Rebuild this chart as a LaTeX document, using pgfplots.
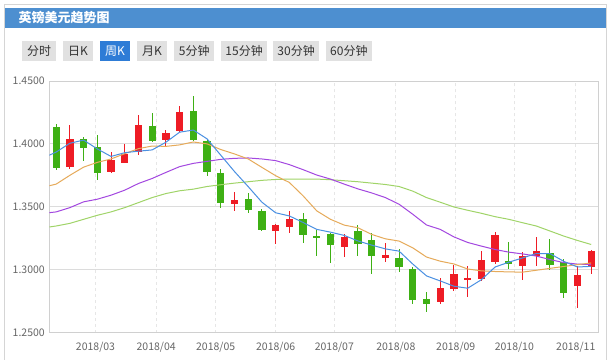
\documentclass[border=0pt]{standalone}
\usepackage{fontspec}
\setmainfont{Noto Sans CJK SC}
\usepackage{pgfplots}
\usepackage{pgfplotstable}
\pgfplotsset{compat=1.18}
\definecolor{hdr}{HTML}{4D8FD0}
\definecolor{bordercol}{HTML}{D5D5D5}
\definecolor{btn}{HTML}{E1E1E1}
\definecolor{btnact}{HTML}{2E7CD6}
\definecolor{btntxt}{HTML}{333333}
\definecolor{axcol}{HTML}{D0D0D0}
\definecolor{gridcol}{HTML}{DCDCDC}
\definecolor{vgridcol}{HTML}{E6E6E6}
\definecolor{labcol}{HTML}{666666}
\definecolor{upred}{HTML}{EE1C25}
\definecolor{dngreen}{HTML}{3EB014}
\definecolor{maA}{HTML}{4A90E2}
\definecolor{maB}{HTML}{E6AA5A}
\definecolor{maC}{HTML}{A347E0}
\definecolor{maD}{HTML}{A0D468}

% red (up) candles: index open high low close
\pgfplotstableread{
i o h l c
1 1.3819 1.4147 1.3800 1.4040
4 1.3778 1.3933 1.3768 1.3870
5 1.3848 1.4000 1.3845 1.3917
6 1.3939 1.4227 1.3912 1.4147
8 1.4027 1.4112 1.3973 1.4085
9 1.4099 1.4299 1.4093 1.4256
13 1.3525 1.3618 1.3464 1.3557
16 1.3306 1.3360 1.3206 1.3354
17 1.3336 1.3466 1.3293 1.3406
21 1.3181 1.3280 1.3098 1.3258
24 1.3093 1.3208 1.3058 1.3114
28 1.2742 1.2930 1.2726 1.2853
29 1.2848 1.3040 1.2834 1.2968
30 1.2914 1.3026 1.2786 1.2934
31 1.2928 1.3146 1.2906 1.3080
32 1.3058 1.3298 1.3045 1.3272
34 1.3026 1.3138 1.2920 1.3106
35 1.3106 1.3258 1.3026 1.3152
38 1.2866 1.3026 1.2696 1.2960
39 1.3018 1.3160 1.2968 1.3152
}\redtab

% green (down) candles
\pgfplotstableread{
i o h l c
0 1.4134 1.4155 1.3792 1.3806
2 1.4035 1.4054 1.3862 1.3970
3 1.3973 1.4072 1.3714 1.3766
7 1.4141 1.4248 1.4013 1.4019
10 1.4261 1.4381 1.4019 1.4032
11 1.4021 1.4040 1.3746 1.3778
12 1.3765 1.3800 1.3490 1.3533
14 1.3560 1.3608 1.3453 1.3472
15 1.3466 1.3486 1.3306 1.3314
18 1.3400 1.3448 1.3213 1.3274
19 1.3263 1.3312 1.3106 1.3258
20 1.3280 1.3288 1.3050 1.3194
22 1.3304 1.3358 1.3106 1.3206
23 1.3237 1.3288 1.2966 1.3106
25 1.3093 1.3166 1.2978 1.3018
26 1.3005 1.3022 1.2726 1.2760
27 1.2768 1.2824 1.2662 1.2726
33 1.3066 1.3218 1.3005 1.3048
36 1.3133 1.3240 1.3000 1.3034
37 1.3061 1.3085 1.2778 1.2818
}\greentab

% moving averages
\pgfplotstableread{
i ma5 ma10 ma20 ma30
-0.5 1.3910 1.3667 1.3453 1.3339
0 1.3935 1.3680 1.3459 1.3347
1 1.4005 1.3750 1.3493 1.3368
2 1.4030 1.3815 1.3539 1.3400
3 1.3960 1.3853 1.3560 1.3432
4 1.3900 1.3880 1.3592 1.3459
5 1.3930 1.3922 1.3632 1.3493
6 1.3942 1.3962 1.3685 1.3533
7 1.3952 1.3983 1.3725 1.3573
8 1.4013 1.3980 1.3773 1.3605
9 1.4093 1.3992 1.3819 1.3627
10 1.4110 1.4015 1.3845 1.3640
11 1.4040 1.4000 1.3861 1.3661
12 1.3910 1.3955 1.3877 1.3675
13 1.3780 1.3920 1.3885 1.3688
14 1.3660 1.3880 1.3888 1.3699
15 1.3536 1.3813 1.3880 1.3710
16 1.3452 1.3747 1.3867 1.3717
17 1.3427 1.3693 1.3835 1.3720
18 1.3375 1.3587 1.3795 1.3720
19 1.3320 1.3467 1.3752 1.3720
20 1.3298 1.3400 1.3720 1.3715
21 1.3272 1.3354 1.3680 1.3707
22 1.3228 1.3333 1.3642 1.3699
23 1.3195 1.3280 1.3610 1.3688
24 1.3165 1.3245 1.3573 1.3677
25 1.3147 1.3227 1.3520 1.3661
26 1.3044 1.3173 1.3440 1.3624
27 1.2950 1.3100 1.3355 1.3573
28 1.2910 1.3067 1.3320 1.3536
29 1.2868 1.3045 1.3260 1.3498
30 1.2852 1.3005 1.3216 1.3472
31 1.2920 1.2990 1.3187 1.3448
32 1.3021 1.2985 1.3160 1.3421
33 1.3059 1.2982 1.3139 1.3400
34 1.3093 1.2980 1.3125 1.3373
35 1.3128 1.2995 1.3108 1.3347
36 1.3128 1.3010 1.3080 1.3307
37 1.3066 1.3025 1.3056 1.3267
38 1.3021 1.3040 1.3044 1.3232
39 1.3026 1.3053 1.3040 1.3200
}\matab

\begin{document}
\begin{tikzpicture}[x=1pt,y=1pt]
\useasboundingbox (0,0) rectangle (609,359);
\fill[white] (0,0) rectangle (609,359);
% widget border
\draw[bordercol, line width=1pt] (4.5,-1) -- (4.5,354.5) -- (606.5,354.5) -- (606.5,-1);
% header
\fill[hdr] (5,331.3) rectangle (606,351.3);
\node[anchor=west, text=white, inner sep=0, font=\fontsize{13}{15}\selectfont\bfseries] at (18.3,341.8) {英镑美元趋势图};
% buttons
\tikzset{btnbox/.style={inner sep=0, font=\fontsize{12}{14}\selectfont, text=btntxt}}
\foreach \xa/\xb/\t in {22.3/55.7/分时, 63.3/92.7/日K, 137.3/166.7/月K, 174.3/214.3/5分钟, 221/267.3/15分钟, 273.3/319/30分钟, 326/371.7/60分钟}{
  \fill[btn] (\xa,298) rectangle (\xb,318);
  \node[btnbox] at ({(\xa+\xb)/2},308) {\t};
}
\fill[btnact] (100,298) rectangle (130,318);
\node[btnbox, text=white] at (115,308) {周K};

\begin{axis}[
  at={(49.3pt,26.5pt)}, anchor=south west,
  scale only axis, width=548.7pt, height=251.5pt,
  xmin=-0.5, xmax=39.5, ymin=1.25, ymax=1.45,
  axis line style={draw=axcol},
  tick style={draw=none},
  xtick={2.87,7.29,11.63,16.0,20.28,24.76,29.13,33.4,37.88},
  xticklabels={2018/03,2018/04,2018/05,2018/06,2018/07,2018/08,2018/09,2018/10,2018/11},
  ytick={1.25,1.30,1.35,1.40,1.45},
  scaled y ticks=false,
  /pgf/number format/assume math mode=true,
  yticklabel style={/pgf/number format/fixed, /pgf/number format/fixed zerofill, /pgf/number format/precision=4, xshift=-1pt},
  xticklabel style={yshift=-6pt},
  ticklabel style={font=\fontsize{10.5}{12}\selectfont, text=labcol},
  xmajorgrids, ymajorgrids,
  x grid style={vgridcol, dashed, line width=0.8pt},
  y grid style={gridcol, line width=0.8pt},
  error bars/error mark=none,
  candle/.style={only marks, mark=*, mark options={draw=none, fill=none, opacity=0}},
]
% wicks
\addplot[candle, error bars/.cd, y dir=both, y explicit, error bar style={upred, line width=1pt, line cap=butt, opacity=1}]
  table[x=i, y expr=(\thisrow{h}+\thisrow{l})/2, y error expr=(\thisrow{h}-\thisrow{l})/2]{\redtab};
\addplot[candle, error bars/.cd, y dir=both, y explicit, error bar style={dngreen, line width=1pt, line cap=butt, opacity=1}]
  table[x=i, y expr=(\thisrow{h}+\thisrow{l})/2, y error expr=(\thisrow{h}-\thisrow{l})/2]{\greentab};
% bodies
\addplot[candle, error bars/.cd, y dir=both, y explicit, error bar style={upred, line width=7.3pt, line cap=butt, opacity=1}]
  table[x=i, y expr=(\thisrow{o}+\thisrow{c})/2, y error expr={max(abs(\thisrow{c}-\thisrow{o})/2,0.0006)}]{\redtab};
\addplot[candle, error bars/.cd, y dir=both, y explicit, error bar style={dngreen, line width=7.3pt, line cap=butt, opacity=1}]
  table[x=i, y expr=(\thisrow{o}+\thisrow{c})/2, y error expr={max(abs(\thisrow{c}-\thisrow{o})/2,0.0006)}]{\greentab};
% moving averages
\addplot[maD, line width=1pt, mark=none] table[x=i, y=ma30]{\matab};
\addplot[maC, line width=1pt, mark=none] table[x=i, y=ma20]{\matab};
\addplot[maB, line width=1pt, mark=none] table[x=i, y=ma10]{\matab};
\addplot[maA, line width=1pt, mark=none] table[x=i, y=ma5]{\matab};
\end{axis}
\end{tikzpicture}
\end{document}
